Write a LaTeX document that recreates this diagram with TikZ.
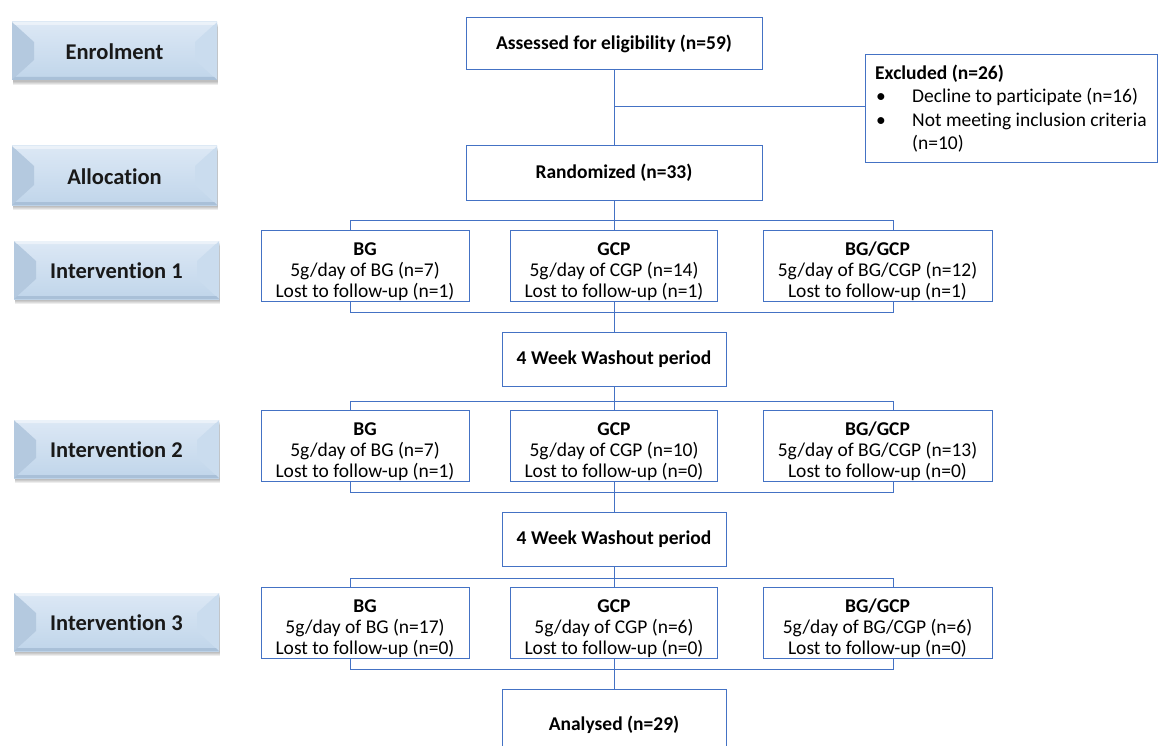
\documentclass[tikz,border=0pt]{standalone}
\usepackage{fontspec}
\setmainfont{Carlito}[Ligatures=NoCommon]
\definecolor{lineblue}{HTML}{4472C4}
\definecolor{stTop}{HTML}{DCE8F5}
\definecolor{stBot}{HTML}{C0D5EA}
\definecolor{stL}{HTML}{B4C9DF}
\definecolor{stR}{HTML}{CADCEE}
\definecolor{stB}{HTML}{A9C0D8}
\tikzset{
  box/.style={draw=lineblue, line width=1pt, fill=white, inner sep=0pt, align=center,
    font=\fontsize{19.5}{21}\selectfont},
  boldbox/.style={box, font=\fontsize{19.5}{21}\selectfont\bfseries},
  conn/.style={draw=lineblue, line width=1pt},
  stagelab/.style={font=\fontsize{22.5}{24}\selectfont\bfseries, text=black!90}
}
\newcommand\firststrut{\rule{0pt}{25pt}}
\begin{document}
\begin{tikzpicture}[x=1pt,y=-1pt]
\useasboundingbox (0,0) rectangle (1158,746);
% ---------- stage boxes ----------
\foreach \nm/\xa/\xb/\ya/\yb/\lab in {
  enr/12/217/22/80/Enrolment,
  alloc/12/217/146/205/Allocation,
  int1/14/219/241/299/Intervention 1,
  int2/14/219/420/478/Intervention 2,
  int3/14/219/593/651/Intervention 3}{
  \foreach \k in {1,...,4}{
    \fill[black,opacity=0.07] (\xa+1,\ya+1+\k) rectangle (\xb+1,\yb+1+\k);
  }
  \shade[top color=stTop, bottom color=stBot] (\xa,\ya) rectangle (\xb,\yb);
  \fill[stL] (\xa,\ya) -- (\xa+22,\ya+20) -- (\xa+22,\yb-20) -- (\xa,\yb) -- cycle;
  \fill[stR] (\xb,\ya) -- (\xb-22,\ya+20) -- (\xb-22,\yb-20) -- (\xb,\yb) -- cycle;
  \fill[white,opacity=0.45] (\xa,\ya) -- (\xb,\ya) -- (\xb-3,\ya+3) -- (\xa+3,\ya+3) -- cycle;
  \fill[stB] (\xa,\yb) -- (\xb,\yb) -- (\xb-3,\yb-3) -- (\xa+3,\yb-3) -- cycle;
  \node[stagelab] (\nm) at ({(\xa+\xb)/2},{(\ya+\yb)/2+1}) {\lab};
}
% ---------- main flow ----------
\node[boldbox, minimum width=296, minimum height=52] (assess) at (614,44) {Assessed for eligibility (n=59)};
\node[boldbox, minimum width=296, minimum height=54] (rand) at (614,173) {Randomized (n=33)};
\node[box, minimum width=292, minimum height=108] (excl) at (1011,109) {};
\node[anchor=north west, inner sep=0pt, font=\fontsize{19.5}{23.5}\selectfont, align=left] (excltxt) at (875,62.5) {%
  \renewcommand\arraystretch{1.0}%
  \begin{tabular}{@{}p{37pt}@{}l@{}}
  \multicolumn{2}{@{}l}{\textbf{Excluded (n=26)}}\\
  \hspace*{1pt}\textbullet & Decline to participate (n=16)\\
  \hspace*{1pt}\textbullet & Not meeting inclusion criteria\\
   & (n=10)
  \end{tabular}};
\coordinate (br) at (614,107);
\draw[conn] (assess.south) -- (rand.north);
\draw[conn] (br) -- (excl.west |- br);
% group rows
\foreach \r/\cy/\nA/\nB/\nC/\lA/\lB/\lC in {
  1/266/7/14/12/1/1/1,
  2/446/7/10/13/1/0/0,
  3/623/17/6/6/0/0/0}{
  \node[box, minimum width=208, minimum height=69] (bg\r) at (365,\cy) {\firststrut\textbf{BG}\\5g/day of BG (n=\nA)\\Lost to follow-up (n=\lA)};
  \node[box, minimum width=207, minimum height=69] (gcp\r) at (614,\cy) {\firststrut\textbf{GCP}\\5g/day of CGP (n=\nB)\\Lost to follow-up (n=\lB)};
  \node[box, minimum width=229, minimum height=69] (mix\r) at (877.5,\cy) {\firststrut\textbf{BG/GCP}\\5g/day of BG/CGP (n=\nC)\\Lost to follow-up (n=\lC)};
}
\node[boldbox, minimum width=224, minimum height=54] (wash1) at (614,359) {4 Week Washout period};
\node[boldbox, minimum width=224, minimum height=54] (wash2) at (614,539) {4 Week Washout period};
\node[boldbox, minimum width=224, minimum height=72] (anal) at (614,725) {Analysed (n=29)};
% buses
\coordinate (t1L) at (350,220); \coordinate (t1R) at (893,220);
\coordinate (b1L) at (350,312); \coordinate (b1R) at (893,312);
\coordinate (t2L) at (350,401); \coordinate (t2R) at (893,401);
\coordinate (b2L) at (350,492); \coordinate (b2R) at (893,492);
\coordinate (t3L) at (350,578); \coordinate (t3R) at (893,578);
\coordinate (b3L) at (350,669); \coordinate (b3R) at (893,669);
\draw[conn] (rand.south) -- (gcp1.north);
\draw[conn] (t1L |- bg1.north) -- (t1L) -- (t1R) -- (t1R |- mix1.north);
\draw[conn] (b1L |- bg1.south) -- (b1L) -- (b1R) -- (b1R |- mix1.south);
\draw[conn] (gcp1.south) -- (wash1.north);
\draw[conn] (wash1.south) -- (gcp2.north);
\draw[conn] (t2L |- bg2.north) -- (t2L) -- (t2R) -- (t2R |- mix2.north);
\draw[conn] (b2L |- bg2.south) -- (b2L) -- (b2R) -- (b2R |- mix2.south);
\draw[conn] (gcp2.south) -- (wash2.north);
\draw[conn] (wash2.south) -- (gcp3.north);
\draw[conn] (t3L |- bg3.north) -- (t3L) -- (t3R) -- (t3R |- mix3.north);
\draw[conn] (b3L |- bg3.south) -- (b3L) -- (b3R) -- (b3R |- mix3.south);
\draw[conn] (gcp3.south) -- (anal.north);
\end{tikzpicture}
\end{document}
